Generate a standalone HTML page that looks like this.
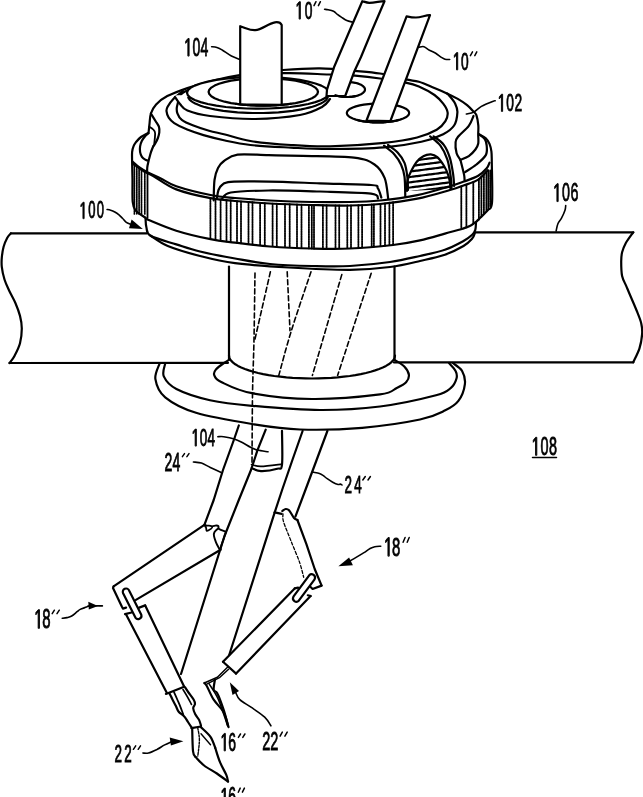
<!DOCTYPE html>
<html><head><meta charset="utf-8"><style>
html,body{margin:0;padding:0;background:#fff;width:643px;height:797px;overflow:hidden}
svg{display:block;filter:grayscale(1)}
</style></head><body>
<svg width="643" height="797" viewBox="0 0 643 797">
<g fill="none" stroke="#000" stroke-linecap="round" stroke-linejoin="round">
<path d="M10.9,233.3 L147,233.3" stroke-width="2.2" />
<path d="M10.9,233.3 C10.3,234 8.5,235.4 7.3,237.7 C6.1,239.9 4.5,243.5 3.6,246.8 C2.7,250.1 2.1,254.4 1.8,257.7 C1.5,261 1.4,263.2 1.8,266.8 C2.2,270.4 3.3,275.6 4.5,279.5 C5.7,283.4 7.3,286.6 9.1,290.5 C10.9,294.4 13.7,299 15.5,303.2 C17.3,307.4 18.9,311.7 20,315.9 C21.1,320.1 21.8,324.1 21.8,328.6 C21.8,333.2 21.2,338.6 20,343.2 C18.8,347.8 16.2,352.6 14.5,355.9 C12.8,359.2 10.3,361.8 9.5,363" stroke-width="2.2" />
<path d="M9.5,363 L228,362.8" stroke-width="2.2" />
<path d="M475,232.3 L633.4,232.3" stroke-width="2.2" />
<path d="M633.2,232.3 C632,234.1 627.6,239.9 625.7,243.2 C623.9,246.5 622.9,249.3 622.1,252.3 C621.4,255.3 621.2,257.5 621.2,261.4 C621.2,265.3 621.2,271.7 622.1,275.9 C623,280.1 625.1,283.2 626.6,286.8 C628.1,290.4 629.5,293.8 631.2,297.7 C632.9,301.6 634.9,306.2 636.6,310.5 C638.3,314.8 640.3,319.3 641.2,323.2 C642.1,327.1 642.4,329.9 642.1,334.1 C641.8,338.3 640.9,343.9 639.4,348.6 C637.9,353.3 634.2,360 633.2,362.3" stroke-width="2.2" />
<path d="M394,362.4 L633.4,362.3" stroke-width="2.2" />
<path d="M147.6,133.2 C146.5,133.8 142.9,135.6 141,137 C139.1,138.4 137.6,140.1 136.3,141.7 C135.1,143.3 134.2,144.7 133.5,146.4 C132.8,148.1 132.3,149.6 132.1,152.1 C131.9,154.6 132,156.8 132.1,161.5 C132.2,166.2 132.4,173.3 132.5,180 C132.6,186.7 132.2,196.6 132.7,201.6 C133.2,206.6 133.2,207.4 135.3,210.1 C137.4,212.8 143.8,216.5 145.5,217.8" stroke-width="2.2" />
<path d="M479.2,134.4 C480.3,135 484.1,136.6 485.8,138.2 C487.5,139.8 488.6,141.6 489.5,143.8 C490.4,146 491,148.2 491.4,151.4 C491.8,154.6 491.7,154.1 491.8,162.7 C491.9,171.2 492.7,194.8 492,202.7 C491.3,210.6 490.1,207.4 487.7,210.3 C485.3,213.2 479.4,218.6 477.7,220.3" stroke-width="2.2" />
<path d="M148.5,133.2 C148,133.6 146.8,134.2 145.7,135.5 C144.6,136.8 142.8,139 141.9,140.8 C141,142.6 140.4,144.5 140.1,146.4 C139.8,148.3 139.8,150.4 140.1,152.1 C140.4,153.8 141.1,155.6 141.9,156.8 C142.8,158.1 144.2,159 145.2,159.6 C146.1,160.2 147.2,160.4 147.6,160.6" stroke-width="2.2" />
<path d="M465.1,172.1 C467,170.8 472.9,167.3 476.4,164.5 C479.8,161.7 484.1,158.2 485.8,155.1 C487.5,152 486.9,148.4 486.7,145.7 C486.5,143 486.1,141 484.8,139.1 C483.6,137.2 480.1,135.2 479.2,134.4" stroke-width="2.2" />
<path d="M132.5,161.5 C133.6,162.4 136.4,165.2 139.1,167.1 C141.8,169 144.9,170.9 148.5,172.8 C152.1,174.7 156.2,176.2 160.8,178.4 C165.4,180.6 168,183.4 176.3,186.2 C184.6,189 200.7,193 210.5,195 C220.3,197 225.1,197.1 235,198 C244.9,198.9 257.2,199.8 270,200.5 C282.8,201.2 298.7,201.8 312,202 C325.3,202.2 338.7,202.2 350,202 C361.3,201.8 368.8,201.6 380,200.5 C391.2,199.4 405.6,197.6 417.3,195.2 C429,192.8 442.2,188.5 450,186.2 C457.8,183.9 459.4,183.2 464.1,181.5 C468.8,179.8 474.4,178 478.2,175.8 C482,173.6 484.8,170.5 486.7,168.3 C488.6,166.1 489,163.6 489.5,162.7" stroke-width="2.2" />
<path d="M133.5,164 C135.2,165.2 140.5,169.2 143.8,171.2 C147.1,173.2 147.8,173 153.2,176 C158.6,179 166.8,185.7 176.3,189.4 C185.9,193.1 200.7,196.3 210.5,198.2 C220.3,200.1 225.1,200.1 235,201 C244.9,201.9 257.2,202.8 270,203.5 C282.8,204.2 298.7,204.7 312,205 C325.3,205.3 338.7,205.7 350,205.5 C361.3,205.3 368.8,205.1 380,204 C391.2,202.9 405.6,201 417.3,198.7 C429,196.4 442.2,192.2 450,190 C457.8,187.8 459.4,187 464.1,185.3 C468.8,183.6 474.3,182.1 478.2,179.6 C482.1,177.1 486.1,171.8 487.7,170.2" stroke-width="2.2" />
<path d="M146.4,219 C151.4,220.9 165.6,227.3 176.3,230.7 C187,234.1 200.7,237.2 210.5,239.2 C220.3,241.2 225.1,241.4 235,242.6 C244.9,243.8 257.2,245.5 270,246.5 C282.8,247.5 298.7,248.2 312,248.5 C325.3,248.8 336.5,249.1 350,248.5 C363.5,247.9 381.3,246.3 393,245 C404.7,243.7 411.4,242.3 420,240.4 C428.6,238.5 438.1,235.5 444.9,233.6 C451.7,231.7 456.9,230.4 461,229.2 C465.1,227.9 467.3,227.3 469.8,226.1 C472.3,224.9 474.7,222.8 476,221.8 C477.3,220.8 477.4,220.6 477.7,220.3" stroke-width="2.2" />
<path d="M210.4,198.2 L210.4,239.2" stroke-width="1.8" stroke-dasharray="1.6,0.8"/>
<path d="M215.5,198.8 L215.5,239.9" stroke-width="1.8" stroke-dasharray="1.6,0.8"/>
<path d="M220.6,199.4 L220.6,240.6" stroke-width="1.8" stroke-dasharray="1.6,0.8"/>
<path d="M226.5,200 L226.5,241.4" stroke-width="1.8" stroke-dasharray="1.6,0.8"/>
<path d="M230.7,200.5 L230.7,242" stroke-width="1.8" stroke-dasharray="1.6,0.8"/>
<path d="M237,201.1 L237,242.8" stroke-width="1.8" stroke-dasharray="1.6,0.8"/>
<path d="M241,201.4 L241,243.3" stroke-width="1.8" stroke-dasharray="1.6,0.8"/>
<path d="M248.5,202 L248.5,244.1" stroke-width="1.8" stroke-dasharray="1.6,0.8"/>
<path d="M252.5,202.2 L252.5,244.6" stroke-width="1.8" stroke-dasharray="1.6,0.8"/>
<path d="M260.1,202.8 L260.1,245.4" stroke-width="1.8" stroke-dasharray="1.6,0.8"/>
<path d="M264.8,203.1 L264.8,245.9" stroke-width="1.8" stroke-dasharray="1.6,0.8"/>
<path d="M272.6,203.6 L272.6,246.6" stroke-width="1.8" stroke-dasharray="1.6,0.8"/>
<path d="M276.8,203.7 L276.8,246.8" stroke-width="1.8" stroke-dasharray="1.6,0.8"/>
<path d="M285,204 L285,247.2" stroke-width="1.8" stroke-dasharray="1.6,0.8"/>
<path d="M289.7,204.2 L289.7,247.4" stroke-width="1.8" stroke-dasharray="1.6,0.8"/>
<path d="M297,204.5 L297,247.8" stroke-width="1.8" stroke-dasharray="1.6,0.8"/>
<path d="M301.5,204.6 L301.5,248" stroke-width="1.8" stroke-dasharray="1.6,0.8"/>
<path d="M308.9,204.9 L308.9,248.4" stroke-width="1.8" stroke-dasharray="1.6,0.8"/>
<path d="M311.8,205 L311.8,248.5" stroke-width="1.8" stroke-dasharray="1.6,0.8"/>
<path d="M314,205 L314,248.5" stroke-width="1.8" stroke-dasharray="1.6,0.8"/>
<path d="M322.9,205.1 L322.9,248.5" stroke-width="1.8" stroke-dasharray="1.6,0.8"/>
<path d="M326.6,205.2 L326.6,248.5" stroke-width="1.8" stroke-dasharray="1.6,0.8"/>
<path d="M335.5,205.3 L335.5,248.5" stroke-width="1.8" stroke-dasharray="1.6,0.8"/>
<path d="M339.2,205.4 L339.2,248.5" stroke-width="1.8" stroke-dasharray="1.6,0.8"/>
<path d="M347.3,205.5 L347.3,248.5" stroke-width="1.8" stroke-dasharray="1.6,0.8"/>
<path d="M351,205.4 L351,248.4" stroke-width="1.8" stroke-dasharray="1.6,0.8"/>
<path d="M358.4,205.1 L358.4,247.8" stroke-width="1.8" stroke-dasharray="1.6,0.8"/>
<path d="M362.1,204.9 L362.1,247.5" stroke-width="1.8" stroke-dasharray="1.6,0.8"/>
<path d="M371.7,204.4 L371.7,246.7" stroke-width="1.8" stroke-dasharray="1.6,0.8"/>
<path d="M373.9,204.3 L373.9,246.6" stroke-width="1.8" stroke-dasharray="1.6,0.8"/>
<path d="M380.5,203.9 L380.5,246" stroke-width="1.8" stroke-dasharray="1.6,0.8"/>
<path d="M385,203.3 L385,245.7" stroke-width="1.8" stroke-dasharray="1.6,0.8"/>
<path d="M389.4,202.7 L389.4,245.3" stroke-width="1.8" stroke-dasharray="1.6,0.8"/>
<path d="M393.1,202.1 L393.1,245" stroke-width="1.8" stroke-dasharray="1.6,0.8"/>
<path d="M134.4,164.4 L134.4,214" stroke-width="1.7" stroke-dasharray="1.7,0.6"/>
<path d="M136.8,166.1 L136.8,214" stroke-width="1.7" stroke-dasharray="1.7,0.6"/>
<path d="M139.1,167.7 L139.1,214" stroke-width="1.7" stroke-dasharray="1.7,0.6"/>
<path d="M141.5,169.4 L141.5,214" stroke-width="1.7" stroke-dasharray="1.7,0.6"/>
<path d="M144.8,171.5 L144.8,214" stroke-width="1.7" stroke-dasharray="1.7,0.6"/>
<path d="M147.5,172.9 L147.5,218" stroke-width="1.8" />
<path d="M461.3,186.5 L461.3,229.1" stroke-width="1.8" stroke-dasharray="1.7,0.6"/>
<path d="M466.4,184.7 L466.4,227.3" stroke-width="1.8" stroke-dasharray="1.7,0.6"/>
<path d="M473.3,181.9 L473.3,223.7" stroke-width="1.8" stroke-dasharray="1.7,0.6"/>
<path d="M478.9,179.2 L478.9,219.7" stroke-width="1.8" stroke-dasharray="1.7,0.6"/>
<path d="M481.4,176.7 L481.4,216.7" stroke-width="1.8" stroke-dasharray="1.7,0.6"/>
<path d="M483.9,174.3 L483.9,213.7" stroke-width="1.8" stroke-dasharray="1.7,0.6"/>
<path d="M486.4,171.8 L486.4,210.7" stroke-width="1.8" stroke-dasharray="1.7,0.6"/>
<path d="M488.3,170.5 L488.3,208.4" stroke-width="1.8" stroke-dasharray="1.7,0.6"/>
<path d="M490.2,170.5 L490.2,206.2" stroke-width="1.8" stroke-dasharray="1.7,0.6"/>
<path d="M145.5,217.8 C145.7,219.4 145.5,224.3 146.4,227.3 C147.3,230.3 145.7,233 150.7,235.8 C155.7,238.7 168.1,241.8 176.3,244.4 C184.5,247 190.2,249.2 200,251.5 C209.8,253.8 223.3,256.4 235,258.5 C246.7,260.6 257.2,262.8 270,264 C282.8,265.2 298.7,265.7 312,266 C325.3,266.3 337,266.7 350,266 C363,265.3 378.3,263.7 390,262 C401.7,260.3 410.9,258 420,256 C429.1,254 437.6,252.3 444.9,249.8 C452.1,247.3 458.9,243.5 463.5,241 C468.1,238.5 470.2,236.7 472.2,234.8 C474.2,233 474.7,232 475.3,229.9 C475.9,227.8 475.9,223.7 476,222.4" stroke-width="2.2" />
<path d="M150.7,235.8 C153.5,237.5 159.6,242.6 167.8,246 C176,249.4 188.8,253.1 200,256 C211.2,258.9 220.2,261.3 235,263.2 C249.8,265.1 269.4,266.4 288.6,267.5 C307.8,268.6 333.1,269.9 350,269.8 C366.9,269.7 378.3,268.5 390,267 C401.7,265.5 410.9,263.1 420,261 C429.1,258.9 437.6,257.2 444.9,254.7 C452.1,252.2 458.9,248.7 463.5,246 C468.1,243.3 470.3,240.7 472.2,238.6 C474.1,236.5 474.3,234.4 474.7,233.6" stroke-width="2.2" />
<path d="M229,266.5 L229,359.5" stroke-width="2.2" />
<path d="M394.5,266.5 L394.5,359.8" stroke-width="2.2" />
<path d="M395,355.5 L394.7,357.3 L394,359.1 L392.7,360.9 L390.9,362.6 L388.7,364.3 L386,365.9 L382.8,367.5 L379.1,369 L375.1,370.4 L370.7,371.8 L365.9,373 L360.8,374.1 L355.4,375.1 L349.7,376 L343.8,376.7 L337.6,377.4 L331.4,377.9 L325,378.2 L318.5,378.4 L312,378.5 L305.5,378.4 L299,378.2 L292.6,377.9 L286.4,377.4 L280.2,376.7 L274.3,376 L268.6,375.1 L263.2,374.1 L258.1,373 L253.3,371.8 L248.9,370.4 L244.9,369 L241.2,367.5 L238,365.9 L235.3,364.3 L233.1,362.6 L231.3,360.9 L230,359.1 L229.3,357.3 L229,355.5" stroke-width="2.2" />
<path d="M229.6,359.5 C228.7,360.1 226.3,361.4 224,363 C221.7,364.6 217.6,367.4 216,369.4 C214.4,371.4 213.3,372.9 214.2,375 C215.1,377.1 214.9,379 221.2,382 C227.5,385 236.9,390.4 252,393.2 C267.1,396 290.7,398.8 312,399 C333.3,399.2 365.9,396.2 380,394.4 C394.1,392.5 392.4,389.9 396.8,387.9 C401.2,385.9 404.1,384.5 406.1,382.3 C408.1,380.1 409.2,377.5 408.9,374.8 C408.6,372.1 406.7,368.9 404.3,366.4 C401.9,363.9 396.1,360.9 394.5,359.8" stroke-width="2.2" />
<path d="M165.2,363.5 C165,365.6 161.9,372.1 163.8,376.4 C165.7,380.6 168.7,385 176.4,389 C184.1,393 197.4,397.4 210,400.2 C222.6,403 233.7,404.2 252,405.8 C270.3,407.4 298.7,409.9 320,410 C341.3,410.1 360.7,408.9 380,406.5 C399.3,404.1 424.2,398.4 436,395.3 C447.8,392.2 447.5,390.7 450.9,387.9 C454.3,385.1 455.7,381.3 456.5,378.5 C457.3,375.7 456.9,373.6 455.6,371 C454.4,368.4 450.1,364.3 449,363" stroke-width="2.2" />
<path d="M159.6,363.5 C158.9,366.1 154.5,373.6 155.4,379.2 C156.3,384.8 158.4,391.8 165.2,397.4 C172,403 181.5,408.4 196,412.8 C210.5,417.2 234.7,421.2 252,424 C269.3,426.8 281.6,428.9 300,429.5 C318.4,430.1 342.2,429.5 362.2,427.8 C382.2,426.1 406.1,422.4 420,419.5 C433.9,416.6 438.9,413.4 445.3,410.3 C451.7,407.2 455.1,405.3 458.4,400.9 C461.7,396.5 464.3,389.1 464.9,384.1 C465.5,379.1 464.1,374.5 462.1,371 C460.1,367.5 454.4,364.3 452.8,363" stroke-width="2.2" />
<path d="M148.5,133.2 C148.7,131.6 149.1,127.1 149.5,123.8 C149.9,120.5 149.8,116.7 150.9,113.5 C152,110.3 153.4,107.4 156.1,104.5 C158.8,101.6 162.1,98.8 167.3,96.1 C172.5,93.4 179.9,90.7 187.4,88.1 C194.9,85.5 203.6,82.9 212.3,80.7 C221,78.5 227.9,76.9 239.7,75.1 C251.5,73.3 269.6,71.1 283,70 C296.4,68.9 308,68.2 320,68.3 C332,68.4 345,69.9 355,70.8 C365,71.7 371.6,72.1 380,73.5 C388.4,74.9 399.2,78 405.7,79.4 C412.2,80.8 414.1,80.4 418.9,81.8 C423.7,83.2 429.7,86.1 434.4,88 C439.1,89.9 443,91.6 446.9,93.4 C450.8,95.2 454.4,97 457.8,98.9 C461.2,100.9 464.5,103 467.1,105.1 C469.7,107.2 471.8,109.6 473.3,111.3 C474.9,113 475.6,112.9 476.4,115.2 C477.2,117.5 478,122.1 478.3,125.3 C478.6,128.5 478.2,131.3 478.2,134.4 C478.2,137.5 478.7,141.3 478.2,143.8 C477.7,146.3 477,147.4 475.4,149.5 C473.8,151.6 471.3,154.4 468.8,156.1 C466.3,157.8 461.8,159.2 460.4,159.8" stroke-width="2.2" />
<path d="M176.9,106.8 C176.5,109.3 176.6,111.1 177.4,113.3 C178.2,115.5 179.2,117.8 181.8,119.8 C184.4,121.8 188.2,123.5 192.7,125.3 C197.2,127.1 203.6,129.2 209,130.7 C214.4,132.2 218.1,132.8 225,134.5 C231.9,136.2 239.5,139.2 250.5,141 C261.5,142.8 277.8,144.1 291,145 C304.2,145.9 314.4,146.7 330,146.3 C345.6,146 369.9,144.4 384.4,142.9 C398.9,141.4 408.4,139.7 417.1,137.5 C425.8,135.3 432,132.5 436.7,129.8 C441.4,127.1 443.6,124 445.4,121.1 C447.2,118.2 448,115.3 447.6,112.4 C447.2,109.5 445.4,106.6 443.2,103.7 C441,100.8 438.6,97.9 434.5,95 C430.4,92.1 423.7,88.6 418.9,86.5 C414.1,84.4 412.2,83.9 405.7,82.6 C399.2,81.3 388.4,79.7 380,78.5 C371.6,77.3 363.6,76.4 355,75.7 C346.4,75 340.5,74.9 328.6,74.5 C316.7,74.1 298.5,72.7 283.7,73.2 C268.9,73.7 251.6,76 239.7,77.5 C227.8,79 221.4,80.2 212.3,82.5 C203.2,84.8 190.4,88.9 185,91.5 C179.6,94.1 180.9,95.5 179.6,98.1 C178.2,100.6 177.3,104.3 176.9,106.8Z" stroke-width="2.2" />
<path d="M182.9,91 C181.3,92.4 175.7,96.6 173.1,99.2 C170.5,101.8 168.7,104.8 167.6,106.8 C166.5,108.8 166.3,109.3 166.5,111.1 C166.7,112.9 167.4,115.7 168.7,117.7 C170,119.7 171.1,121.1 174.2,123.1 C177.3,125.1 182.3,127.6 187.2,129.6 C192.1,131.6 197.2,133.3 203.5,135.1 C209.8,136.9 217.2,138.8 225,140.5 C232.8,142.2 239.5,143.8 250.5,145 C261.5,146.2 277.8,146.9 291,147.6 C304.2,148.3 314.4,149.1 330,149 C345.6,148.9 369.2,148.5 384.4,147.3 C399.6,146.1 411.6,144 421.4,141.8 C431.2,139.6 437.8,136.9 443.2,134.2 C448.6,131.5 451.7,129.1 454.1,125.5 C456.5,121.9 457.2,116 457.4,112.4 C457.6,108.8 456.6,106.6 455.2,103.7 C453.8,100.8 450.1,96.7 448.7,95 C447.3,93.3 447.2,93.7 446.9,93.4" stroke-width="2.2" />
<path d="M150.9,113.5 C151.7,114.8 154.2,118.8 155.5,121 C156.8,123.2 158.3,124.8 158.9,126.7 C159.5,128.6 159.5,130.5 159.3,132.4 C159.1,134.3 158.6,136.1 157.9,138 C157.2,139.9 155.9,142.4 155.1,143.8 C154.3,145.2 153.5,146 153.2,146.4" stroke-width="2.2" />
<path d="M149.3,126.7 C150,127.2 152.2,128.4 153.2,129.5 C154.2,130.6 154.9,130.7 155.1,133.2 C155.3,135.7 154.3,142.6 154.2,144.5" stroke-width="1.8" />
<path d="M153.2,146.4 C152.7,147.7 151.3,150.8 150.4,154 C149.5,157.2 148.2,162.5 147.6,165.3 C147,168.1 147.2,170.1 147.1,171" stroke-width="2.2" />
<path d="M473.5,116 C472.7,117.7 471.3,122.5 468.8,125.9 C466.3,129.3 460.7,133.6 458.5,136.3 C456.3,139 455.9,139.2 455.6,142 C455.3,144.8 455.8,150.2 456.6,153.2 C457.4,156.2 459.8,158.7 460.4,159.8" stroke-width="2.2" />
<path d="M460.4,159.8 C461,162.3 463.4,171.4 464.1,174.9 C464.8,178.4 464.5,180 464.6,181" stroke-width="2.2" />
<path d="M213.7,200.4 C213.8,197 213.8,185.4 214.5,180 C215.2,174.6 216.4,171.2 218,168 C219.6,164.8 220.7,163.2 224,161 C227.3,158.8 230.2,155.6 237.6,154.6 C245,153.6 257.6,155 268.4,155.2 C279.2,155.4 288.3,155.5 302.6,155.9 C316.9,156.3 342,156.2 354,157.6 C366,159 369.4,161.1 374.5,164.5 C379.6,167.9 382.4,172.5 384.7,178.2 C387,183.9 387.6,195.3 388.2,198.7" stroke-width="2.2" />
<path d="M217,197.5 C217.2,196.2 217.7,192.1 218.5,190 C219.3,187.9 219.9,186.4 222,185 C224.1,183.6 223.1,182.4 230.8,181.8 C238.5,181.2 253.6,181.3 268.4,181.6 C283.2,181.8 302.6,182.7 319.7,183.3 C336.8,183.9 361.3,184.2 371,185 C380.7,185.8 376.2,186.3 377.9,188.4 C379.6,190.5 380.7,196 381.3,197.5" stroke-width="2.2" />
<path d="M222,199 C223.5,197.9 223.1,193.9 230.8,192.5 C238.5,191.1 253.5,190.7 268.4,190.5 C283.3,190.3 302.9,191 320,191.5 C337.1,192 361.3,192.4 371,193.6 C380.7,194.8 376.8,197.7 378,198.5" stroke-width="2.2" />
<path d="M384,145.7 C385.7,147.1 391.4,151.1 394.2,154.2 C397,157.3 399.3,160.8 401,164.5 C402.7,168.2 403.8,171.1 404.5,176.5 C405.2,181.9 405.2,193.6 405.3,197" stroke-width="2.2" />
<path d="M388,145 C389.6,146.2 394.9,149.5 397.6,152.5 C400.4,155.5 402.9,158.8 404.5,162.8 C406.1,166.8 406.7,172 407.3,176.5 C407.9,181 407.9,187.8 408,190" stroke-width="2.2" />
<path d="M430.1,136.3 C431.8,137.9 437.5,141.8 440.4,145.7 C443.3,149.5 445.6,154.3 447.3,159.4 C449,164.5 450,171.7 450.7,176.5 C451.4,181.3 451.4,186.1 451.5,188" stroke-width="2.2" />
<path d="M433.6,136.3 C435.3,137.7 441.1,141.2 443.8,144.8 C446.5,148.4 448.2,152.6 449.8,157.6 C451.4,162.6 452.5,170 453.2,174.7 C453.9,179.4 454,184.1 454.1,186" stroke-width="2.2" />
<clipPath id="gr"><path d="M407,191 C407,190.6 406.9,190.6 407,188.8 C407.1,187 406.8,183.4 407.5,180.4 C408.2,177.4 409.6,174.2 411.2,171.1 C412.8,168 414.8,164.3 416.8,161.8 C418.8,159.3 421,157.4 423.3,156.2 C425.6,154.9 428.5,154.2 430.8,154.3 C433.1,154.5 435.1,155.2 437.3,157.1 C439.5,159 441.9,162.4 443.8,165.5 C445.7,168.6 447.4,172.4 448.5,175.8 C449.6,179.2 450.1,183.8 450.4,186 C450.7,188.2 450.5,188.5 450.5,189 Z"/></clipPath>
<path d="M407,191 C407,190.6 406.9,190.6 407,188.8 C407.1,187 406.8,183.4 407.5,180.4 C408.2,177.4 409.6,174.2 411.2,171.1 C412.8,168 414.8,164.3 416.8,161.8 C418.8,159.3 421,157.4 423.3,156.2 C425.6,154.9 428.5,154.2 430.8,154.3 C433.1,154.5 435.1,155.2 437.3,157.1 C439.5,159 441.9,162.4 443.8,165.5 C445.7,168.6 447.4,172.4 448.5,175.8 C449.6,179.2 450.1,183.8 450.4,186 C450.7,188.2 450.5,188.5 450.5,189" stroke-width="2.2" />
<path d="M404,161.8 L454,155.3" stroke-width="2.2" clip-path="url(#gr)" stroke-dasharray="3.5,1"/>
<path d="M404,166.9 L454,160.4" stroke-width="2.2" clip-path="url(#gr)" stroke-dasharray="3.5,1"/>
<path d="M404,172.3 L454,165.8" stroke-width="2.2" clip-path="url(#gr)" stroke-dasharray="3.5,1"/>
<path d="M404,177.8 L454,171.3" stroke-width="2.2" clip-path="url(#gr)" stroke-dasharray="3.5,1"/>
<path d="M404,183.1 L454,176.6" stroke-width="2.2" clip-path="url(#gr)" stroke-dasharray="3.5,1"/>
<path d="M404,188.3 L454,181.8" stroke-width="2.2" clip-path="url(#gr)" stroke-dasharray="3.5,1"/>
<path d="M404,192.8 L454,186.3" stroke-width="2.2" clip-path="url(#gr)" stroke-dasharray="3.5,1"/>
<path d="M175,97 C173.8,98.5 177.9,101.8 180,104 C182.1,106.2 182.4,108.5 187.4,110.5 C192.4,112.5 198.7,114.6 210,116 C221.3,117.4 240,119.2 255,119 C270,118.8 288.8,117 300,115 C311.2,113 317,109.7 322,107 C327,104.3 328.8,101 330,99 C331.2,97 341,95.7 329,95 C317,94.3 281.7,95 258,95 C234.3,95 200.8,94.7 187,95 C173.2,95.3 176.2,95.5 175,97Z" stroke-width="2.2" fill="#fff" stroke="none"/>
<path d="M175,97 C175.8,98.2 177.9,101.8 180,104 C182.1,106.2 182.4,108.5 187.4,110.5 C192.4,112.5 198.7,114.6 210,116 C221.3,117.4 240,119.2 255,119 C270,118.8 288.8,117 300,115 C311.2,113 317,109.7 322,107 C327,104.3 328.7,100.3 330,99" stroke-width="2.2" />
<path d="M329,92.8 L328.1,95.3 L325.5,97.7 L321.3,100 L315.4,102.1 L308.2,104 L299.7,105.7 L290.2,107 L279.9,107.9 L269.1,108.5 L258,108.7 L246.9,108.5 L236.1,107.9 L225.8,107 L216.3,105.7 L207.8,104 L200.6,102.1 L194.7,100 L190.5,97.7 L187.9,95.3 L187,92.8 L187.9,90.3 L190.5,87.9 L194.7,85.6 L200.6,83.5 L207.8,81.6 L216.3,79.9 L225.8,78.6 L236.1,77.7 L246.9,77.1 L258,76.9 L269.1,77.1 L279.9,77.7 L290.2,78.6 L299.7,79.9 L308.2,81.6 L315.4,83.5 L321.3,85.6 L325.5,87.9 L328.1,90.3 L329,92.8" stroke-width="2.2" fill="#fff"/>
<path d="M327.7,97.5 L327.1,98.7 L326.1,100 L324.7,101.2 L322.9,102.4 L320.8,103.5 L318.3,104.6 L315.5,105.7 L312.4,106.7 L309,107.6 L305.3,108.5 L301.3,109.4 L297.1,110.1 L292.7,110.8 L288.1,111.3 L283.4,111.8 L278.5,112.3 L273.4,112.6 L268.3,112.8 L263.2,113 L258,113 L252.8,113 L247.7,112.8 L242.6,112.6 L237.5,112.3 L232.6,111.8 L227.9,111.3 L223.3,110.8 L218.9,110.1 L214.7,109.4 L210.7,108.5 L207,107.6 L203.6,106.7 L200.5,105.7 L197.7,104.6 L195.2,103.5 L193.1,102.4 L191.3,101.2 L189.9,100 L188.9,98.7 L188.3,97.5" stroke-width="2.2" />
<path d="M318,91.9 L317.3,94.1 L315.3,96.2 L312,98.2 L307.6,100 L302,101.7 L295.5,103.1 L288.1,104.2 L280.2,105 L271.9,105.5 L263.3,105.7 L254.7,105.5 L246.4,105 L238.5,104.2 L231.1,103.1 L224.6,101.7 L219,100 L214.6,98.2 L211.3,96.2 L209.3,94.1 L208.6,91.9 L209.3,89.7 L211.3,87.6 L214.6,85.6 L219,83.8 L224.6,82.1 L231.1,80.7 L238.5,79.6 L246.4,78.8 L254.7,78.3 L263.3,78.1 L271.9,78.3 L280.2,78.8 L288.1,79.6 L295.5,80.7 L302,82.1 L307.6,83.8 L312,85.6 L315.3,87.6 L317.3,89.7 L318,91.9" stroke-width="2.2" />
<path d="M240.2,26.2 C246,28 250,30.5 255.2,30.2 C262,29.8 268,23.5 275,22.3 C278.5,21.8 281,23.5 281.7,25 L281.7,104.9 L240.2,104.3 Z" stroke-width="2.2" fill="#fff"/>
<path d="M290.7,103.9 L289.4,104 L288.1,104.2 L286.8,104.4 L285.5,104.5 L284.2,104.6 L282.9,104.8 L281.6,104.9 L280.2,105 L278.8,105.1 L277.5,105.2 L276.1,105.3 L274.7,105.4 L273.3,105.5 L271.9,105.5 L270.4,105.6 L269,105.6 L267.6,105.7 L266.2,105.7 L264.7,105.7 L263.3,105.7 L261.9,105.7 L260.4,105.7 L259,105.7 L257.6,105.6 L256.2,105.6 L254.7,105.5 L253.3,105.5 L251.9,105.4 L250.5,105.3 L249.1,105.2 L247.8,105.1 L246.4,105 L245,104.9 L243.7,104.8 L242.4,104.6 L241.1,104.5 L239.8,104.4 L238.5,104.2 L237.2,104 L236,103.9" stroke-width="2.2" />
<path d="M365,89.5 L364.8,90.7 L364.1,91.8 L363,92.9 L361.6,93.9 L359.7,94.8 L357.6,95.6 L355.2,96.2 L352.6,96.6 L349.8,96.9 L347,97 L344.2,96.9 L341.4,96.6 L338.8,96.2 L336.4,95.6 L334.3,94.8 L332.4,93.9 L331,92.9 L329.9,91.8 L329.2,90.7 L329,89.5 L329.2,88.3 L329.9,87.2 L331,86.1 L332.4,85.1 L334.3,84.2 L336.4,83.4 L338.8,82.8 L341.4,82.4 L344.2,82.1 L347,82 L349.8,82.1 L352.6,82.4 L355.2,82.8 L357.6,83.4 L359.7,84.2 L361.6,85.1 L363,86.1 L364.1,87.2 L364.8,88.3 L365,89.5" stroke-width="2.2" />
<path d="M362.3,1.2 C365,2 367,2.8 369.3,2.8 C375,2.8 380,1.2 384.5,1.2 L372.2,30 L361,57 L354.5,71 L345.2,96 L326.5,96 L327,89.7 L334,67.3 L349.9,30 Z" stroke-width="2.2" fill="#fff"/>
<path d="M356,96 L355.5,96.1 L355,96.2 L354.5,96.3 L354,96.4 L353.5,96.5 L353,96.6 L352.5,96.6 L352,96.7 L351.4,96.8 L350.9,96.8 L350.4,96.9 L349.8,96.9 L349.3,96.9 L348.7,97 L348.2,97 L347.6,97 L347.1,97 L346.5,97 L346,97 L345.4,97 L344.9,96.9 L344.3,96.9 L343.8,96.9 L343.3,96.8 L342.7,96.8 L342.2,96.7 L341.7,96.7 L341.1,96.6 L340.6,96.5 L340.1,96.4 L339.6,96.3 L339.1,96.2 L338.6,96.1 L338.1,96 L337.7,95.9 L337.2,95.8 L336.7,95.7 L336.3,95.5 L335.9,95.4 L335.4,95.2" stroke-width="2.2" />
<path d="M409.2,113 L408.8,114.5 L407.7,115.9 L405.8,117.3 L403.2,118.5 L400.1,119.6 L396.3,120.6 L392.2,121.4 L387.6,121.9 L382.9,122.3 L378,122.4 L373.1,122.3 L368.4,121.9 L363.8,121.4 L359.7,120.6 L355.9,119.6 L352.8,118.5 L350.2,117.3 L348.3,115.9 L347.2,114.5 L346.8,113 L347.2,111.5 L348.3,110.1 L350.2,108.7 L352.8,107.5 L355.9,106.4 L359.7,105.4 L363.8,104.6 L368.4,104.1 L373.1,103.7 L378,103.6 L382.9,103.7 L387.6,104.1 L392.2,104.6 L396.3,105.4 L400.1,106.4 L403.2,107.5 L405.8,108.7 L407.7,110.1 L408.8,111.5 L409.2,113" stroke-width="2.2" />
<path d="M406.6,16.3 C410,17 413,17.5 416,17.5 C421,17.5 426,15 430,15.2 L390.4,121 L366.5,120.5 Z" stroke-width="2.2" fill="#fff"/>
<path d="M398.1,120.2 L397.2,120.4 L396.3,120.6 L395.4,120.8 L394.5,121 L393.6,121.1 L392.6,121.3 L391.7,121.4 L390.7,121.6 L389.7,121.7 L388.7,121.8 L387.6,121.9 L386.6,122 L385.5,122.1 L384.5,122.2 L383.4,122.3 L382.3,122.3 L381.3,122.3 L380.2,122.4 L379.1,122.4 L378,122.4 L376.9,122.4 L375.8,122.4 L374.7,122.3 L373.7,122.3 L372.6,122.3 L371.5,122.2 L370.5,122.1 L369.4,122 L368.4,121.9 L367.3,121.8 L366.3,121.7 L365.3,121.6 L364.3,121.4 L363.4,121.3 L362.4,121.1 L361.5,121 L360.6,120.8 L359.7,120.6 L358.8,120.4 L357.9,120.2" stroke-width="2.2" />
<path d="M255,273 C254.8,284 254.4,318.7 254,339 C253.6,359.3 252.8,374.3 252.5,395 C252.2,415.7 252.1,451.7 252,463" stroke-width="1.6" stroke-dasharray="5,3"/>
<path d="M270.4,271.8 L255,339" stroke-width="1.6" stroke-dasharray="5,3"/>
<path d="M287.2,271.8 L290,330.6" stroke-width="1.6" stroke-dasharray="5,3"/>
<path d="M311,271.8 C307.7,281.6 296.8,313.3 291.4,330.6 C286,347.9 280.9,367.9 278.8,375.4" stroke-width="1.6" stroke-dasharray="5,3"/>
<path d="M341.8,274.6 L312.4,375.4" stroke-width="1.6" stroke-dasharray="5,3"/>
<path d="M371.2,273.2 L337.6,375.4" stroke-width="1.6" stroke-dasharray="5,3"/>
<path d="M282,430.8 C282,436.4 282.8,458.4 282,464.7 C281.2,471 280.8,467.6 277.3,468.7 C273.8,469.8 265.3,471.2 261,471.1 C256.7,471 253.2,468.7 251.7,468.2" stroke-width="2.2" />
<path d="M251.5,464.5 C253.1,464.8 255.9,466.5 261,466.4 C266.1,466.3 278.5,464.5 282,464.1" stroke-width="1.6" />
<path d="M238.8,425.5 L234.2,439 L223,470 L213.7,500 L204.4,524.9" stroke-width="2.2" />
<path d="M265.7,429.7 L257.5,450.1 L251,470 L238.8,500 L224.5,536 L181,674" stroke-width="2.2" />
<path d="M204.4,524.9 L113.6,586.3" stroke-width="2.2" />
<path d="M220.6,549.8 L135.9,599.9" stroke-width="2.2" />
<path d="M204.3,524.8 C204.2,525.1 205.6,526.5 206,527.5 C206.4,528.5 206.2,530.3 206.7,530.7 C207.2,531.1 208.1,530.5 209,530 C209.9,529.5 211.8,528.2 212.1,527.5 C212.3,526.8 211.4,526.1 210.5,525.8 C209.6,525.5 207.7,525.8 206.7,525.6 C205.7,525.4 204.4,524.5 204.3,524.8Z" stroke-width="1.8" />
<path d="M212.1,526.4 C212.6,526.3 214.2,525.7 215.2,525.6 C216.2,525.5 217.7,525.4 218.3,526 C219,526.6 217.8,528.1 219.1,529.1 C220.4,530.1 224.9,531.3 226.1,531.8" stroke-width="1.9" />
<path d="M218.3,528.3 C217.7,528.9 215.1,530.9 214.4,532.2 C213.7,533.5 213.7,534.4 214,536.1 C214.3,537.8 215.2,540.2 216,542.3 C216.8,544.4 218.4,547.2 219.1,548.5 C219.8,549.8 220.1,549.8 220.3,550" stroke-width="1.9" />
<path d="M226.1,531.8 C225.7,532.9 224.6,536.1 223.8,538.4 C223,540.7 222,543.5 221.4,545.4 C220.8,547.3 220.5,549 220.3,549.7" stroke-width="1.9" />
<path d="M113.6,586.3 L113,588 L121.8,606.5 L122.9,608.6 L126.1,607.6" stroke-width="2.2" />
<path d="M123.1,593.2 L135.4,617.6 A3.3,3.3 0 0 0 141.3,614.8 L129.1,590.4 A3.3,3.3 0 0 0 123.1,593.2 Z" stroke-width="2.2" />
<path d="M125,614.1 L131.6,612.5" stroke-width="2.2" />
<path d="M139.2,607.6 L145.2,605.4" stroke-width="2.2" />
<path d="M126.1,614.6 L166.9,692.9" stroke-width="2.2" />
<path d="M145.2,605.4 L184.2,686.7" stroke-width="2.2" />
<path d="M165.9,693.9 L184.2,686.7" stroke-width="2.2" />
<path d="M169.3,693.1 C169.8,694 171,696.5 172.1,698.7 C173.2,700.9 174.8,703.9 175.9,706.1 C177,708.3 177.3,710 178.7,711.7 C180.1,713.4 182.8,714.7 184.3,716.4 C185.9,718.1 186.8,720.1 188,722 C189.2,723.9 191.1,726.7 191.7,727.6" stroke-width="2.2" />
<path d="M185.2,687.5 C185.8,688.3 187.1,690.5 188.5,692.5 C189.9,694.5 192.5,697.6 193.6,699.5 C194.7,701.4 195.1,702.5 195,704 C194.9,705.5 193.1,706.5 193.2,708.2 C193.3,710 194.4,712.5 195.4,714.5 C196.4,716.5 198.3,718.2 199.2,720.1 C200.1,722 200.7,724.8 201,725.7" stroke-width="2.2" />
<path d="M174,692.1 C174.6,693.5 176.6,698 177.7,700.5 C178.8,703 179.6,704.8 180.5,707.1 C181.4,709.4 182.8,713.3 183.3,714.5" stroke-width="1.8" />
<path d="M183,689.5 C183.8,690.8 186.1,694.5 187.5,697 C188.9,699.5 190.8,703.2 191.5,704.5" stroke-width="1.6" />
<path d="M191.4,728.1 L201,726.5" stroke-width="2.2" />
<path d="M192.2,728.1 C192.3,732 192.5,746.4 193,751.2 C193.5,756 195,755.9 195.4,756.8" stroke-width="2.2" />
<path d="M197.8,728.1 C198.1,730.1 199.4,735.4 199.4,740 C199.4,744.6 198.1,753.3 197.8,756" stroke-width="1.4" stroke-dasharray="2,1.5"/>
<path d="M201,727.3 C202.6,728.9 208.1,733.4 210.5,736.9 C212.9,740.4 214.5,746.1 215.3,748" stroke-width="2.2" />
<path d="M201,733.7 L210.5,744.8" stroke-width="1.4" />
<path d="M195.4,756.8 C196.8,758.2 200.5,762.7 204.1,765.5 C207.7,768.3 212.9,770.8 216.9,773.5 C220.9,776.2 226.2,780.2 228,781.5" stroke-width="2.2" />
<path d="M215.3,748 C216.1,750.4 218.2,757.9 220.1,762.4 C221.9,766.9 225.1,771.9 226.4,775.1 C227.7,778.3 227.7,780.4 228,781.5" stroke-width="2.2" />
<path d="M302.6,431 L292.4,460 L282.1,490 L274.7,512.4" stroke-width="2.2" />
<path d="M274.7,512.4 L229.2,655" stroke-width="2.2" />
<path d="M327.4,431 L316.6,460 L305.4,490 L295.4,516.6" stroke-width="2.2" />
<path d="M274.7,512.4 L281.6,513.8" stroke-width="2.2" />
<path d="M282.3,511 C282.9,510.7 284.6,509.1 285.7,509 C286.8,508.9 287.8,508.9 289.2,510.4 C290.6,511.9 292.6,516.4 294,518 C295.4,519.6 296.8,519.7 297.4,520" stroke-width="2.2" />
<path d="M283,513.8 C283.1,515.2 282.2,517.4 283.6,522 C285,526.6 288.6,534.7 291.2,541.4 C293.8,548.1 297.4,556.1 299.5,562.1 C301.6,568.1 303,574.8 303.7,577.3" stroke-width="1.3" stroke-dasharray="3,2"/>
<path d="M297.4,520 L306.4,544.2 L314.7,569 L321.6,585.6" stroke-width="2.2" />
<path d="M321.6,585.6 L312.6,589 L310.6,587" stroke-width="2.2" />
<path d="M309.2,575.3 L293.4,596.7 A3.4,3.4 0 0 0 298.8,600.7 L314.6,579.3 A3.4,3.4 0 0 0 309.2,575.3 Z" stroke-width="2.2" />
<path d="M294.7,588.4 L298.1,587.7" stroke-width="2.2" />
<path d="M307.8,595.3 L310.6,596" stroke-width="2.2" />
<path d="M294.7,588.4 L223,661.8" stroke-width="2.2" />
<path d="M310.6,596 L236.1,673.6" stroke-width="2.2" />
<path d="M223,661.8 L236.1,673.6" stroke-width="2.2" />
<path d="M228,666.7 L217.4,677.3 L204.3,683" stroke-width="1.5" />
<path d="M228.6,669.2 L219.9,677.3 L206.8,684.2" stroke-width="1.5" />
<path d="M204.3,683 C204.7,683.5 205.2,683.2 206.8,686 C208.4,688.8 210.9,695.3 213.7,699.7 C216.5,704.1 221.1,707.6 223.6,712.2 C226.1,716.8 227.8,724.6 228.6,727.1" stroke-width="2.2" />
<path d="M214.9,679.8 C214.7,681.5 213.3,687.5 213.7,689.8 C214.1,692.1 215.8,690.2 217.4,693.5 C219.1,696.8 221.8,704.3 223.6,709.7 C225.4,715.1 227.3,723.1 228,725.8" stroke-width="2.2" />
<path d="M211.6,46.7 C212.5,46.8 215.1,46.9 216.9,47.4 C218.7,47.9 219.8,48.6 222.2,50 C224.6,51.4 228.5,54.5 231.4,56 C234.3,57.5 238.1,58.8 239.4,59.3" stroke-width="1.6" />
<path d="M324.6,9.3 C325.2,9.4 326.6,9.4 328.1,9.7 C329.6,10 332.1,10.5 333.6,11.3 C335.2,12.1 336.1,13.4 337.4,14.4 C338.7,15.4 339.7,16.1 341.3,17.1 C342.9,18.1 344.9,19.8 346.8,20.6 C348.8,21.5 352,21.9 353,22.2" stroke-width="1.6" />
<path d="M419.3,47.1 C420.1,47 422.3,46.2 424,46.7 C425.7,47.2 427.4,49.1 429.4,50.2 C431.3,51.3 433.8,52.1 435.7,53.3 C437.6,54.5 439.6,56.2 441.1,57.2 C442.7,58.2 443.6,58.8 445,59.2 C446.4,59.6 448.9,59.5 449.7,59.5" stroke-width="1.6" />
<path d="M466.4,114 C467.6,113.7 471.4,113.4 473.9,112.1 C476.4,110.8 478.3,108.2 481.4,106.4 C484.5,104.6 490.4,102.3 492.7,101.4 C495,100.5 494.8,100.9 495.2,100.8" stroke-width="1.6" />
<path d="M565.7,205.5 C565.6,206.3 565.7,208.1 565,210.2 C564.3,212.3 562.7,215.8 561.5,218.1 C560.3,220.4 558.8,221.7 557.9,223.8 C557,226 556.4,229.8 556.1,231" stroke-width="1.6" />
<path d="M107.1,209.5 C107.7,209.6 109.3,209.8 110.6,210.2 C111.9,210.6 113.4,211.2 114.8,212 C116.2,212.8 117.7,213.8 119,214.8 C120.3,215.9 121.3,217.1 122.5,218.3 C123.7,219.5 124.6,221.1 126,222.1 C127.4,223.1 130.2,224.1 131,224.5" stroke-width="1.6" />
<path d="M142.8,229.1 L131.6,219.5 L129,228.3 Z" fill="#000" stroke="none" />
<path d="M217.8,436.7 C218.8,436.7 221,436.3 223.7,436.7 C226.4,437.1 231.1,438 234.2,439 C237.3,440 239.6,441.1 242.3,442.5 C245,443.9 248,445.9 250.5,447.2 C253,448.5 254.6,449.3 257.5,450.1 C260.4,450.9 266.2,451.5 268,451.8" stroke-width="1.6" />
<path d="M193.4,462 C194.8,462.2 198.7,462.2 201.5,463.1 C204.3,464 207,465.9 210.3,467.5 C213.6,469.1 219.3,471.6 221.1,472.4" stroke-width="1.6" />
<path d="M312.8,472.1 C313.9,472.4 317.6,473 319.4,473.6 C321.1,474.2 322,474.8 323.3,475.6 C324.6,476.5 325.6,477.6 327.2,478.7 C328.8,479.8 330.9,481.2 332.7,482.2 C334.5,483.2 336.8,484.2 338.1,484.5 C339.4,484.8 339.8,484 340.4,484.1 C341,484.2 341.7,484.8 342,484.9" stroke-width="1.6" />
<path d="M380.8,546.2 C379.8,546.3 376.6,546.3 374.8,546.7 C373,547.1 371.8,547.6 370.1,548.5 C368.4,549.4 366.2,551.2 364.5,552.3 C362.8,553.4 362.3,553.6 359.9,555.1 C357.5,556.6 351.6,560 350,561" stroke-width="1.6" />
<path d="M338.4,566.3 L349.1,557.4 L352.9,565.3 Z" fill="#000" stroke="none" />
<path d="M62.3,618.3 C63.1,618.2 65.4,618 67,617.6 C68.6,617.2 70,617 71.7,616 C73.4,615 75.7,612.8 77.1,611.7 C78.5,610.6 78.7,610.2 80.2,609.4 C81.8,608.6 84.9,607.7 86.4,607.1 C88,606.5 86.8,606.1 89.5,605.9 C92.2,605.7 100.2,605.9 102.4,605.9" stroke-width="1.6" />
<path d="M88.3,601.8 L98,605.9 L88.8,609.6 Z" fill="#000" stroke="none" />
<path d="M142.9,753 C143.8,753 146.1,753.6 148.5,753 C150.9,752.4 154.6,750.6 157.3,749.3 C160,747.9 162.2,746.2 164.7,744.9 C167.1,743.6 170.8,742.1 172,741.5" stroke-width="1.6" />
<path d="M183.4,741.2 L169.7,737.4 L170.9,745.5 Z" fill="#000" stroke="none" />
<path d="M227.5,725.5 C225.9,721.1 221.3,706.1 218.2,699.1 C215.1,692.1 210.4,686.1 208.9,683.5" stroke-width="1.5" />
<path d="M270.9,725.8 C269.9,724.3 268,720.2 264.7,717.1 C261.4,714 255.2,710.1 251,707.2 C246.8,704.3 242.4,702.2 239.8,699.7 C237.2,697.2 236.2,693.3 235.5,692" stroke-width="1.6" />
<path d="M229.8,682.3 L232.5,695 L239,691 Z" fill="#000" stroke="none" />
<path transform="translate(184.34,55.70) scale(0.00684,-0.01221)" d="M515,0 L515,1237 L197,1010 L197,1180 L530,1409 L696,1409 L696,0 Z" fill="#000" stroke="#000" stroke-width="0.9" vector-effect="non-scaling-stroke"/>
<path transform="translate(295.65,18.70) scale(0.00676,-0.01207)" d="M515,0 L515,1237 L197,1010 L197,1180 L530,1409 L696,1409 L696,0 Z" fill="#000" stroke="#000" stroke-width="0.9" vector-effect="non-scaling-stroke"/>
<path d="M316,1.7 L314,5.6" stroke-width="1.5" />
<path d="M320.4,1.7 L318.4,5.6" stroke-width="1.5" />
<path transform="translate(453.05,69.50) scale(0.00672,-0.01200)" d="M515,0 L515,1237 L197,1010 L197,1180 L530,1409 L696,1409 L696,0 Z" fill="#000" stroke="#000" stroke-width="0.9" vector-effect="non-scaling-stroke"/>
<path d="M472.5,51.9 L470.4,55.6" stroke-width="1.5" />
<path d="M476.8,51.9 L474.8,55.6" stroke-width="1.5" />
<path transform="translate(497.95,111.10) scale(0.00672,-0.01200)" d="M515,0 L515,1237 L197,1010 L197,1180 L530,1409 L696,1409 L696,0 Z" fill="#000" stroke="#000" stroke-width="0.9" vector-effect="non-scaling-stroke"/>
<path transform="translate(553.33,201.20) scale(0.00695,-0.01242)" d="M515,0 L515,1237 L197,1010 L197,1180 L530,1409 L696,1409 L696,0 Z" fill="#000" stroke="#000" stroke-width="0.9" vector-effect="non-scaling-stroke"/>
<path transform="translate(79.68,218.30) scale(0.00637,-0.01137)" d="M515,0 L515,1237 L197,1010 L197,1180 L530,1409 L696,1409 L696,0 Z" fill="#000" stroke="#000" stroke-width="0.9" vector-effect="non-scaling-stroke"/>
<path transform="translate(191.76,445.70) scale(0.00660,-0.01179)" d="M515,0 L515,1237 L197,1010 L197,1180 L530,1409 L696,1409 L696,0 Z" fill="#000" stroke="#000" stroke-width="0.9" vector-effect="non-scaling-stroke"/>
<path d="M184.5,453.6 L182.4,456.6" stroke-width="1.5" />
<path d="M189,453.6 L186.9,456.6" stroke-width="1.5" />
<path d="M365.3,476.5 L362.8,480" stroke-width="1.5" />
<path d="M370.4,476.5 L368,480" stroke-width="1.5" />
<path transform="translate(384.20,555.80) scale(0.00727,-0.01297)" d="M515,0 L515,1237 L197,1010 L197,1180 L530,1409 L696,1409 L696,0 Z" fill="#000" stroke="#000" stroke-width="0.9" vector-effect="non-scaling-stroke"/>
<path d="M405.1,537.5 L403.1,542.2" stroke-width="1.5" />
<path d="M409.2,537.5 L407.2,542.2" stroke-width="1.5" />
<path transform="translate(34.40,628.00) scale(0.00730,-0.01304)" d="M515,0 L515,1237 L197,1010 L197,1180 L530,1409 L696,1409 L696,0 Z" fill="#000" stroke="#000" stroke-width="0.9" vector-effect="non-scaling-stroke"/>
<path d="M54.4,610.2 L52.2,613.7" stroke-width="1.5" />
<path d="M59.3,610.2 L57,613.7" stroke-width="1.5" />
<path d="M135.7,745.8 L133.4,749.3" stroke-width="1.5" />
<path d="M140.5,745.8 L138.2,749.3" stroke-width="1.5" />
<path transform="translate(220.64,750.50) scale(0.00680,-0.01214)" d="M515,0 L515,1237 L197,1010 L197,1180 L530,1409 L696,1409 L696,0 Z" fill="#000" stroke="#000" stroke-width="0.9" vector-effect="non-scaling-stroke"/>
<path d="M240.5,734 L238.4,737.4" stroke-width="1.5" />
<path d="M244.9,734 L242.8,737.4" stroke-width="1.5" />
<path d="M282.3,732.1 L280.1,736.2" stroke-width="1.5" />
<path d="M287.2,732.1 L284.9,736.2" stroke-width="1.5" />
<path transform="translate(220.64,805.20) scale(0.00680,-0.01214)" d="M515,0 L515,1237 L197,1010 L197,1180 L530,1409 L696,1409 L696,0 Z" fill="#000" stroke="#000" stroke-width="0.9" vector-effect="non-scaling-stroke"/>
<path d="M240.2,788.1 L238.3,792.2" stroke-width="1.5" />
<path d="M244.4,788.1 L242.4,792.2" stroke-width="1.5" />
<path transform="translate(531.92,455.00) scale(0.00703,-0.01256)" d="M515,0 L515,1237 L197,1010 L197,1180 L530,1409 L696,1409 L696,0 Z" fill="#000" stroke="#000" stroke-width="0.9" vector-effect="non-scaling-stroke"/>
<path d="M532.5,457.5 L556.5,457.5" stroke-width="1.5" />
</g>
<g font-family="'Liberation Sans', sans-serif" fill="#000" stroke="#000" stroke-width="0.9">
<text transform="translate(192.45,55.70) scale(0.56,1)" x="0" y="0" font-size="25.00">0</text>
<text transform="translate(200.56,55.70) scale(0.56,1)" x="0" y="0" font-size="25.00">4</text>
<text transform="translate(304.84,18.70) scale(0.56,1)" x="0" y="0" font-size="24.71">0</text>
<text transform="translate(460.99,69.50) scale(0.56,1)" x="0" y="0" font-size="24.57">0</text>
<text transform="translate(506.27,111.10) scale(0.56,1)" x="0" y="0" font-size="24.57">0</text>
<text transform="translate(514.59,111.10) scale(0.56,1)" x="0" y="0" font-size="24.57">2</text>
<text transform="translate(561.93,201.20) scale(0.56,1)" x="0" y="0" font-size="25.43">0</text>
<text transform="translate(570.54,201.20) scale(0.56,1)" x="0" y="0" font-size="25.43">6</text>
<text transform="translate(88.27,218.30) scale(0.56,1)" x="0" y="0" font-size="23.29">0</text>
<text transform="translate(96.86,218.30) scale(0.56,1)" x="0" y="0" font-size="23.29">0</text>
<text transform="translate(199.68,445.70) scale(0.56,1)" x="0" y="0" font-size="24.14">0</text>
<text transform="translate(207.61,445.70) scale(0.56,1)" x="0" y="0" font-size="24.14">4</text>
<text transform="translate(164.54,471.30) scale(0.56,1)" x="0" y="0" font-size="25.00">2</text>
<text transform="translate(172.56,471.30) scale(0.56,1)" x="0" y="0" font-size="25.00">4</text>
<text transform="translate(344.46,493.00) scale(0.56,1)" x="0" y="0" font-size="24.00">2</text>
<text transform="translate(354.15,493.00) scale(0.56,1)" x="0" y="0" font-size="24.00">4</text>
<text transform="translate(392.01,555.80) scale(0.56,1)" x="0" y="0" font-size="26.57">8</text>
<text transform="translate(42.17,628.00) scale(0.56,1)" x="0" y="0" font-size="26.71">8</text>
<text transform="translate(114.46,762.30) scale(0.56,1)" x="0" y="0" font-size="24.00">2</text>
<text transform="translate(124.15,762.30) scale(0.56,1)" x="0" y="0" font-size="24.00">2</text>
<text transform="translate(228.30,750.50) scale(0.56,1)" x="0" y="0" font-size="24.86">6</text>
<text transform="translate(262.32,749.90) scale(0.56,1)" x="0" y="0" font-size="25.86">2</text>
<text transform="translate(270.31,749.90) scale(0.56,1)" x="0" y="0" font-size="25.86">2</text>
<text transform="translate(228.30,805.20) scale(0.56,1)" x="0" y="0" font-size="24.86">6</text>
<text transform="translate(540.49,455.00) scale(0.56,1)" x="0" y="0" font-size="25.71">0</text>
<text transform="translate(549.06,455.00) scale(0.56,1)" x="0" y="0" font-size="25.71">8</text>
</g>
</svg>
</body></html>
